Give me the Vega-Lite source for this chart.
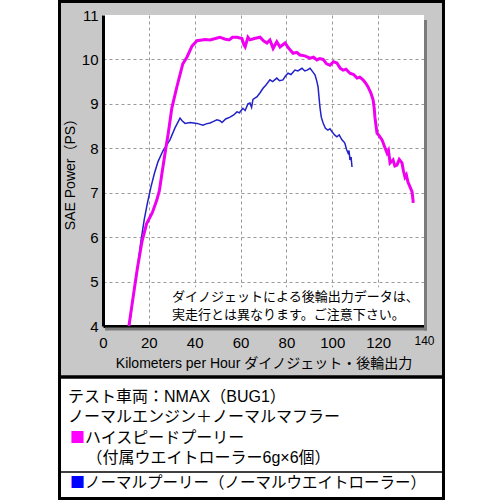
{
  "$schema": "https://vega.github.io/schema/vega-lite/v6.json",
  "width": 321,
  "height": 311,
  "autosize": {"type": "none"},
  "padding": {"left": 103, "top": 15, "right": 76, "bottom": 174},
  "background": "#c8c8c8",
  "config": {
    "view": {"fill": "white", "stroke": null},
    "font": "Liberation Sans, Noto Sans CJK JP"
  },
  "data": {"values": [{"item": "decoration"}]},
  "datasets": {
    "power": [
      {"series": "ノーマルプーリー", "kmh": 11.5, "ps": 4.0},
      {"series": "ノーマルプーリー", "kmh": 13.5, "ps": 4.8},
      {"series": "ノーマルプーリー", "kmh": 15.0, "ps": 5.3},
      {"series": "ノーマルプーリー", "kmh": 16.5, "ps": 5.9},
      {"series": "ノーマルプーリー", "kmh": 18.0, "ps": 6.4},
      {"series": "ノーマルプーリー", "kmh": 19.5, "ps": 6.8},
      {"series": "ノーマルプーリー", "kmh": 21.0, "ps": 7.15},
      {"series": "ノーマルプーリー", "kmh": 22.5, "ps": 7.45},
      {"series": "ノーマルプーリー", "kmh": 24.0, "ps": 7.7},
      {"series": "ノーマルプーリー", "kmh": 26.2, "ps": 7.95},
      {"series": "ノーマルプーリー", "kmh": 29.2, "ps": 8.19},
      {"series": "ノーマルプーリー", "kmh": 31.4, "ps": 8.46},
      {"series": "ノーマルプーリー", "kmh": 33.6, "ps": 8.68},
      {"series": "ノーマルプーリー", "kmh": 34.5, "ps": 8.62},
      {"series": "ノーマルプーリー", "kmh": 35.8, "ps": 8.56},
      {"series": "ノーマルプーリー", "kmh": 38.0, "ps": 8.58},
      {"series": "ノーマルプーリー", "kmh": 41.0, "ps": 8.56},
      {"series": "ノーマルプーリー", "kmh": 43.6, "ps": 8.52},
      {"series": "ノーマルプーリー", "kmh": 45.0, "ps": 8.55},
      {"series": "ノーマルプーリー", "kmh": 46.7, "ps": 8.57},
      {"series": "ノーマルプーリー", "kmh": 48.0, "ps": 8.6},
      {"series": "ノーマルプーリー", "kmh": 49.7, "ps": 8.64},
      {"series": "ノーマルプーリー", "kmh": 51.0, "ps": 8.62},
      {"series": "ノーマルプーリー", "kmh": 51.9, "ps": 8.58},
      {"series": "ノーマルプーリー", "kmh": 53.5, "ps": 8.66},
      {"series": "ノーマルプーリー", "kmh": 55.4, "ps": 8.7},
      {"series": "ノーマルプーリー", "kmh": 57.0, "ps": 8.75},
      {"series": "ノーマルプーリー", "kmh": 58.4, "ps": 8.82},
      {"series": "ノーマルプーリー", "kmh": 59.5, "ps": 8.8},
      {"series": "ノーマルプーリー", "kmh": 61.0, "ps": 8.9},
      {"series": "ノーマルプーリー", "kmh": 62.0, "ps": 8.85},
      {"series": "ノーマルプーリー", "kmh": 63.2, "ps": 9.0},
      {"series": "ノーマルプーリー", "kmh": 64.1, "ps": 9.02},
      {"series": "ノーマルプーリー", "kmh": 64.8, "ps": 8.92},
      {"series": "ノーマルプーリー", "kmh": 65.4, "ps": 9.1},
      {"series": "ノーマルプーリー", "kmh": 67.2, "ps": 9.16},
      {"series": "ノーマルプーリー", "kmh": 68.5, "ps": 9.25},
      {"series": "ノーマルプーリー", "kmh": 69.8, "ps": 9.35},
      {"series": "ノーマルプーリー", "kmh": 71.0, "ps": 9.42},
      {"series": "ノーマルプーリー", "kmh": 72.8, "ps": 9.54},
      {"series": "ノーマルプーリー", "kmh": 74.0, "ps": 9.5},
      {"series": "ノーマルプーリー", "kmh": 75.8, "ps": 9.58},
      {"series": "ノーマルプーリー", "kmh": 77.0, "ps": 9.52},
      {"series": "ノーマルプーリー", "kmh": 78.5, "ps": 9.54},
      {"series": "ノーマルプーリー", "kmh": 79.5, "ps": 9.62},
      {"series": "ノーマルプーリー", "kmh": 80.7, "ps": 9.69},
      {"series": "ノーマルプーリー", "kmh": 82.0, "ps": 9.66},
      {"series": "ノーマルプーリー", "kmh": 83.7, "ps": 9.76},
      {"series": "ノーマルプーリー", "kmh": 85.0, "ps": 9.74},
      {"series": "ノーマルプーリー", "kmh": 86.8, "ps": 9.8},
      {"series": "ノーマルプーリー", "kmh": 88.0, "ps": 9.74},
      {"series": "ノーマルプーリー", "kmh": 89.0, "ps": 9.76},
      {"series": "ノーマルプーリー", "kmh": 90.3, "ps": 9.8},
      {"series": "ノーマルプーリー", "kmh": 91.5, "ps": 9.72},
      {"series": "ノーマルプーリー", "kmh": 92.5, "ps": 9.65},
      {"series": "ノーマルプーリー", "kmh": 93.3, "ps": 9.5},
      {"series": "ノーマルプーリー", "kmh": 93.8, "ps": 9.38},
      {"series": "ノーマルプーリー", "kmh": 94.3, "ps": 9.1},
      {"series": "ノーマルプーリー", "kmh": 94.6, "ps": 8.93},
      {"series": "ノーマルプーリー", "kmh": 95.2, "ps": 8.7},
      {"series": "ノーマルプーリー", "kmh": 96.0, "ps": 8.57},
      {"series": "ノーマルプーリー", "kmh": 97.0, "ps": 8.45},
      {"series": "ノーマルプーリー", "kmh": 98.1, "ps": 8.41},
      {"series": "ノーマルプーリー", "kmh": 99.0, "ps": 8.44},
      {"series": "ノーマルプーリー", "kmh": 99.9, "ps": 8.37},
      {"series": "ノーマルプーリー", "kmh": 101.0, "ps": 8.3},
      {"series": "ノーマルプーリー", "kmh": 102.0, "ps": 8.26},
      {"series": "ノーマルプーリー", "kmh": 103.0, "ps": 8.3},
      {"series": "ノーマルプーリー", "kmh": 104.2, "ps": 8.19},
      {"series": "ノーマルプーリー", "kmh": 105.0, "ps": 8.15},
      {"series": "ノーマルプーリー", "kmh": 105.5, "ps": 8.11},
      {"series": "ノーマルプーリー", "kmh": 106.2, "ps": 7.98},
      {"series": "ノーマルプーリー", "kmh": 106.9, "ps": 7.89},
      {"series": "ノーマルプーリー", "kmh": 107.3, "ps": 7.95},
      {"series": "ノーマルプーリー", "kmh": 107.7, "ps": 7.74},
      {"series": "ノーマルプーリー", "kmh": 108.2, "ps": 7.8},
      {"series": "ノーマルプーリー", "kmh": 108.6, "ps": 7.58},
      {"series": "ハイスピードプーリー", "kmh": 11.3, "ps": 4.0},
      {"series": "ハイスピードプーリー", "kmh": 13.0, "ps": 4.6},
      {"series": "ハイスピードプーリー", "kmh": 15.0, "ps": 5.3},
      {"series": "ハイスピードプーリー", "kmh": 17.0, "ps": 5.9},
      {"series": "ハイスピードプーリー", "kmh": 19.0, "ps": 6.3},
      {"series": "ハイスピードプーリー", "kmh": 21.5, "ps": 6.55},
      {"series": "ハイスピードプーリー", "kmh": 23.5, "ps": 6.84},
      {"series": "ハイスピードプーリー", "kmh": 24.6, "ps": 7.05},
      {"series": "ハイスピードプーリー", "kmh": 25.6, "ps": 7.4},
      {"series": "ハイスピードプーリー", "kmh": 27.4, "ps": 8.0},
      {"series": "ハイスピードプーリー", "kmh": 28.5, "ps": 8.35},
      {"series": "ハイスピードプーリー", "kmh": 30.0, "ps": 8.9},
      {"series": "ハイスピードプーリー", "kmh": 32.2, "ps": 9.38},
      {"series": "ハイスピードプーリー", "kmh": 34.8, "ps": 9.9},
      {"series": "ハイスピードプーリー", "kmh": 36.6, "ps": 10.05},
      {"series": "ハイスピードプーリー", "kmh": 38.8, "ps": 10.3},
      {"series": "ハイスピードプーリー", "kmh": 41.0, "ps": 10.42},
      {"series": "ハイスピードプーリー", "kmh": 44.5, "ps": 10.45},
      {"series": "ハイスピードプーリー", "kmh": 46.7, "ps": 10.44},
      {"series": "ハイスピードプーリー", "kmh": 49.0, "ps": 10.47},
      {"series": "ハイスピードプーリー", "kmh": 51.0, "ps": 10.5},
      {"series": "ハイスピードプーリー", "kmh": 53.0, "ps": 10.46},
      {"series": "ハイスピードプーリー", "kmh": 55.0, "ps": 10.44},
      {"series": "ハイスピードプーリー", "kmh": 56.5, "ps": 10.5},
      {"series": "ハイスピードプーリー", "kmh": 58.5, "ps": 10.5},
      {"series": "ハイスピードプーリー", "kmh": 60.6, "ps": 10.47},
      {"series": "ハイスピードプーリー", "kmh": 61.5, "ps": 10.32},
      {"series": "ハイスピードプーリー", "kmh": 62.0, "ps": 10.28},
      {"series": "ハイスピードプーリー", "kmh": 63.2, "ps": 10.5},
      {"series": "ハイスピードプーリー", "kmh": 64.1, "ps": 10.44},
      {"series": "ハイスピードプーリー", "kmh": 66.0, "ps": 10.47},
      {"series": "ハイスピードプーリー", "kmh": 68.5, "ps": 10.5},
      {"series": "ハイスピードプーリー", "kmh": 70.0, "ps": 10.42},
      {"series": "ハイスピードプーリー", "kmh": 71.5, "ps": 10.37},
      {"series": "ハイスピードプーリー", "kmh": 72.8, "ps": 10.44},
      {"series": "ハイスピードプーリー", "kmh": 74.2, "ps": 10.25},
      {"series": "ハイスピードプーリー", "kmh": 75.8, "ps": 10.4},
      {"series": "ハイスピードプーリー", "kmh": 77.2, "ps": 10.28},
      {"series": "ハイスピードプーリー", "kmh": 79.4, "ps": 10.37},
      {"series": "ハイスピードプーリー", "kmh": 81.0, "ps": 10.25},
      {"series": "ハイスピードプーリー", "kmh": 82.9, "ps": 10.14},
      {"series": "ハイスピードプーリー", "kmh": 84.5, "ps": 10.16},
      {"series": "ハイスピードプーリー", "kmh": 85.9, "ps": 10.1},
      {"series": "ハイスピードプーリー", "kmh": 88.0, "ps": 10.08},
      {"series": "ハイスピードプーリー", "kmh": 90.3, "ps": 10.03},
      {"series": "ハイスピードプーリー", "kmh": 91.8, "ps": 10.05},
      {"series": "ハイスピードプーリー", "kmh": 93.3, "ps": 9.99},
      {"series": "ハイスピードプーリー", "kmh": 94.5, "ps": 10.02},
      {"series": "ハイスピードプーリー", "kmh": 96.0, "ps": 10.0},
      {"series": "ハイスピードプーリー", "kmh": 97.5, "ps": 9.9},
      {"series": "ハイスピードプーリー", "kmh": 99.0, "ps": 9.87},
      {"series": "ハイスピードプーリー", "kmh": 100.5, "ps": 9.95},
      {"series": "ハイスピードプーリー", "kmh": 102.0, "ps": 9.92},
      {"series": "ハイスピードプーリー", "kmh": 103.5, "ps": 9.8},
      {"series": "ハイスピードプーリー", "kmh": 104.7, "ps": 9.76},
      {"series": "ハイスピードプーリー", "kmh": 106.0, "ps": 9.78},
      {"series": "ハイスピードプーリー", "kmh": 107.7, "ps": 9.69},
      {"series": "ハイスピードプーリー", "kmh": 109.3, "ps": 9.66},
      {"series": "ハイスピードプーリー", "kmh": 110.8, "ps": 9.58},
      {"series": "ハイスピードプーリー", "kmh": 112.0, "ps": 9.6},
      {"series": "ハイスピードプーリー", "kmh": 113.4, "ps": 9.54},
      {"series": "ハイスピードプーリー", "kmh": 114.5, "ps": 9.47},
      {"series": "ハイスピードプーリー", "kmh": 115.6, "ps": 9.38},
      {"series": "ハイスピードプーリー", "kmh": 116.8, "ps": 9.25},
      {"series": "ハイスピードプーリー", "kmh": 117.8, "ps": 9.09},
      {"series": "ハイスピードプーリー", "kmh": 118.3, "ps": 8.9},
      {"series": "ハイスピードプーリー", "kmh": 118.6, "ps": 8.7},
      {"series": "ハイスピードプーリー", "kmh": 119.1, "ps": 8.5},
      {"series": "ハイスピードプーリー", "kmh": 119.5, "ps": 8.34},
      {"series": "ハイスピードプーリー", "kmh": 120.5, "ps": 8.28},
      {"series": "ハイスピードプーリー", "kmh": 121.7, "ps": 8.19},
      {"series": "ハイスピードプーリー", "kmh": 122.7, "ps": 8.05},
      {"series": "ハイスピードプーリー", "kmh": 123.9, "ps": 7.89},
      {"series": "ハイスピードプーリー", "kmh": 124.5, "ps": 7.95},
      {"series": "ハイスピードプーリー", "kmh": 125.2, "ps": 7.67},
      {"series": "ハイスピードプーリー", "kmh": 126.5, "ps": 7.74},
      {"series": "ハイスピードプーリー", "kmh": 127.3, "ps": 7.6},
      {"series": "ハイスピードプーリー", "kmh": 128.2, "ps": 7.62},
      {"series": "ハイスピードプーリー", "kmh": 129.2, "ps": 7.75},
      {"series": "ハイスピードプーリー", "kmh": 130.4, "ps": 7.67},
      {"series": "ハイスピードプーリー", "kmh": 131.0, "ps": 7.5},
      {"series": "ハイスピードプーリー", "kmh": 131.7, "ps": 7.35},
      {"series": "ハイスピードプーリー", "kmh": 132.3, "ps": 7.4},
      {"series": "ハイスピードプーリー", "kmh": 133.0, "ps": 7.24},
      {"series": "ハイスピードプーリー", "kmh": 134.0, "ps": 7.12},
      {"series": "ハイスピードプーリー", "kmh": 134.8, "ps": 7.02},
      {"series": "ハイスピードプーリー", "kmh": 135.2, "ps": 6.84},
      {"series": "ハイスピードプーリー", "kmh": 135.3, "ps": 6.77}
    ]
  },
  "layer": [
    {
      "data": {"name": "power"},
      "mark": {"type": "line", "clip": false},
      "encoding": {
        "x": {
          "field": "kmh", "type": "quantitative",
          "scale": {"domain": [0, 140], "nice": false, "zero": false},
          "axis": {
            "values": [0, 20, 40, 60, 80, 100, 120, 140],
            "title": "Kilometers per Hour ダイノジェット・後輪出力",
            "titleFontSize": 14, "titleFontWeight": "normal", "titleColor": "black", "titlePadding": 6,
            "labelFontSize": {"condition": {"test": "datum.value == 140", "value": 12}, "value": 15},
            "labelColor": "black", "labelPadding": 9, "labelFlush": false,
            "ticks": false, "domainColor": "black", "domainWidth": 3,
            "grid": true, "gridDash": [3, 3], "gridColor": "#999999",
            "gridOpacity": {"condition": {"test": "datum.value == 0 || datum.value == 140", "value": 0}, "value": 1}
          }
        },
        "y": {
          "field": "ps", "type": "quantitative",
          "scale": {"domain": [4, 11], "nice": false, "zero": false},
          "axis": {
            "values": [4, 5, 6, 7, 8, 9, 10, 11],
            "title": "SAE Power（PS）",
            "titleFontSize": 14, "titleFontWeight": "normal", "titleColor": "black", "titlePadding": 4,
            "labelFontSize": 15, "labelColor": "black", "labelPadding": 5,
            "ticks": false, "domainColor": "black", "domainWidth": 3,
            "grid": true, "gridDash": [3, 3], "gridColor": "#999999",
            "gridOpacity": {"condition": {"test": "datum.value == 4 || datum.value == 11", "value": 0}, "value": 1}
          }
        },
        "color": {
          "field": "series", "type": "nominal",
          "scale": {"domain": ["ハイスピードプーリー", "ノーマルプーリー"], "range": ["#f000f0", "#2222c8"]},
          "legend": null
        },
        "strokeWidth": {
          "field": "series", "type": "nominal",
          "scale": {"domain": ["ハイスピードプーリー", "ノーマルプーリー"], "range": [3, 1.5]},
          "legend": null
        }
      }
    },
    {
      "mark": {"type": "rect", "fill": "white", "clip": false},
      "encoding": {"x": {"datum": 27}, "x2": {"datum": 139.5}, "y": {"datum": 4.87}, "y2": {"datum": 4.03}}
    },
    {
      "mark": {"type": "rect", "fill": "#7a7a7a", "clip": false},
      "encoding": {"x": {"datum": 140.0}, "x2": {"datum": 141.3}, "y": {"datum": 10.89}, "y2": {"datum": 3.9}}
    },
    {
      "mark": {"type": "rect", "fill": "#7a7a7a", "clip": false},
      "encoding": {"x": {"datum": 0.9}, "x2": {"datum": 141.3}, "y": {"datum": 3.966}, "y2": {"datum": 3.9}}
    },
    {
      "mark": {"type": "rect", "fill": "white", "clip": false},
      "encoding": {"x": {"datum": -44.92}, "x2": {"datum": -19.63}, "y": {"datum": 11.34}, "y2": {"datum": 0.08}}
    },
    {
      "mark": {"type": "rect", "fill": "white", "clip": false},
      "encoding": {"x": {"datum": 149.16}, "x2": {"datum": 173.15}, "y": {"datum": 11.34}, "y2": {"datum": 0.08}}
    },
    {
      "mark": {"type": "rect", "fill": "white", "clip": false},
      "encoding": {"x": {"datum": -19.63}, "x2": {"datum": 149.16}, "y": {"datum": 2.852}, "y2": {"datum": 0.08}}
    },
    {
      "mark": {"type": "rect", "fillOpacity": 0, "stroke": "black", "strokeWidth": 3, "clip": false},
      "encoding": {"x": {"datum": -18.97}, "x2": {"datum": 148.5}, "y": {"datum": 11.304}, "y2": {"datum": 0.117}}
    },
    {
      "mark": {"type": "rule", "color": "black", "strokeWidth": 3.5, "clip": false},
      "encoding": {"x": {"datum": -18.97}, "x2": {"datum": 148.5}, "y": {"datum": 2.852}}
    },
    {
      "mark": {"type": "rule", "color": "black", "strokeWidth": 1.5, "clip": false},
      "encoding": {"x": {"datum": -18.97}, "x2": {"datum": 148.5}, "y": {"datum": 0.714}}
    },
    {
      "mark": {"type": "text", "text": "ダイノジェットによる後輪出力データは、", "font": "Noto Sans CJK JP", "fontSize": 13, "align": "left", "baseline": "middle", "color": "black", "clip": false},
      "encoding": {"x": {"datum": 30.1}, "y": {"datum": 4.653}}
    },
    {
      "mark": {"type": "text", "text": "実走行とは異なります。ご注意下さい。", "font": "Noto Sans CJK JP", "fontSize": 13, "align": "left", "baseline": "middle", "color": "black", "clip": false},
      "encoding": {"x": {"datum": 30.1}, "y": {"datum": 4.248}}
    },
    {
      "mark": {"type": "text", "text": "テスト車両：NMAX（BUG1）", "font": "Liberation Sans, Noto Sans CJK JP", "fontSize": 16, "align": "left", "baseline": "middle", "color": "black", "clip": false},
      "encoding": {"x": {"datum": -15.26}, "y": {"datum": 2.402}}
    },
    {
      "mark": {"type": "text", "text": "ノーマルエンジン＋ノーマルマフラー", "font": "Liberation Sans, Noto Sans CJK JP", "fontSize": 16, "align": "left", "baseline": "middle", "color": "black", "clip": false},
      "encoding": {"x": {"datum": -15.26}, "y": {"datum": 1.952}}
    },
    {
      "mark": {"type": "text", "text": "■", "font": "Noto Sans CJK JP", "fontSize": 15, "align": "center", "baseline": "middle", "color": "#ff00ff", "clip": false},
      "encoding": {"x": {"datum": -11.12}, "y": {"datum": 1.479}}
    },
    {
      "mark": {"type": "text", "text": "ハイスピードプーリー", "font": "Liberation Sans, Noto Sans CJK JP", "fontSize": 16, "align": "left", "baseline": "middle", "color": "black", "clip": false},
      "encoding": {"x": {"datum": -7.85}, "y": {"datum": 1.479}}
    },
    {
      "mark": {"type": "text", "text": "（付属ウエイトローラー6g×6個）", "font": "Liberation Sans, Noto Sans CJK JP", "fontSize": 16, "align": "left", "baseline": "middle", "color": "black", "clip": false},
      "encoding": {"x": {"datum": -7.2}, "y": {"datum": 1.029}}
    },
    {
      "mark": {"type": "text", "text": "■", "font": "Noto Sans CJK JP", "fontSize": 15, "align": "center", "baseline": "middle", "color": "#0000ff", "clip": false},
      "encoding": {"x": {"datum": -11.12}, "y": {"datum": 0.466}}
    },
    {
      "mark": {"type": "text", "text": "ノーマルプーリー（ノーマルウエイトローラー）", "font": "Liberation Sans, Noto Sans CJK JP", "fontSize": 15.5, "align": "left", "baseline": "middle", "color": "black", "clip": false},
      "encoding": {"x": {"datum": -7.85}, "y": {"datum": 0.466}}
    }
  ]
}
